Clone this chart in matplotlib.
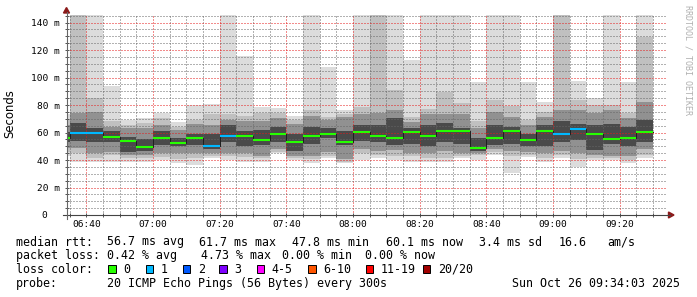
import matplotlib
matplotlib.use("Agg")
import matplotlib.pyplot as plt
from matplotlib.ticker import MultipleLocator, FuncFormatter
from matplotlib.patches import Polygon, Rectangle
from matplotlib.lines import Line2D
import numpy as np

# ---------------- data ----------------
bar_start = ["06:30", "06:35", "06:40", "06:45", "06:50", "06:55", "07:00", "07:05",
             "07:10", "07:15", "07:20", "07:25", "07:30", "07:35", "07:40", "07:45",
             "07:50", "07:55", "08:00", "08:05", "08:10", "08:15", "08:20", "08:25",
             "08:30", "08:35", "08:40", "08:45", "08:50", "08:55", "09:00", "09:05",
             "09:10", "09:15", "09:20", "09:25"]
ping_max = [73.3, 150, 150, 93.7, 69.2, 70.8, 74.3, 67.9, 80.0, 80.7, 150, 115.7,
            78.8, 78.1, 72.0, 150, 107.9, 76.4, 150, 150, 150, 113.0, 150, 150,
            150, 96.9, 150, 150, 96.9, 82.4, 150, 97.6, 84.8, 150, 96.9, 150]
upper_2 = [69.2, 150, 84.8, 68.2, 65.2, 67.2, 70.3, 64.1, 69.2, 73.3, 73.3, 72.3,
           74.3, 74.3, 69.2, 76.4, 71.3, 73.3, 78.4, 150, 90.6, 71.3, 77.4, 89.6,
           81.5, 68.2, 83.5, 79.4, 69.1, 75.1, 150, 83.5, 80.0, 80.0, 73.9, 129.7]
upper_1 = [65.2, 73.9, 75.1, 64.1, 63.1, 63.1, 65.2, 62.1, 66.2, 65.2, 69.2, 68.2,
           68.2, 70.3, 66.2, 72.3, 69.2, 71.3, 73.3, 74.3, 76.4, 67.7, 73.3, 73.3,
           73.3, 63.1, 75.1, 71.3, 65.5, 71.3, 76.4, 76.4, 73.9, 76.4, 70.3, 82.5]
upper_0 = [60.1, 67.2, 63.1, 61.1, 57.0, 55.0, 61.1, 56.0, 59.1, 59.1, 65.2, 61.1,
           62.1, 64.1, 59.1, 64.1, 63.1, 61.1, 65.2, 65.2, 70.3, 63.1, 65.2, 66.7,
           63.1, 56.0, 65.2, 64.1, 59.1, 65.2, 68.2, 66.2, 65.2, 66.2, 64.1, 69.2]
median = [56.2, 59.9, 59.9, 57.0, 54.0, 49.4, 56.2, 52.6, 55.8, 50.2, 57.4, 57.2,
          54.8, 58.6, 53.4, 57.4, 59.0, 53.0, 60.4, 57.4, 56.0, 60.4, 57.4, 61.3,
          61.3, 48.8, 56.0, 60.9, 54.8, 61.3, 59.2, 62.3, 58.6, 55.3, 56.2, 60.4]
lower_0 = [52.9, 54.0, 52.9, 52.9, 45.8, 46.3, 50.9, 49.9, 50.9, 47.9, 52.9, 49.9,
           50.9, 52.9, 46.8, 51.9, 56.0, 50.9, 54.0, 52.9, 50.9, 51.9, 49.9, 52.9,
           51.9, 46.8, 50.9, 51.9, 49.9, 49.9, 52.9, 54.5, 47.3, 51.9, 49.9, 52.9]
lower_1 = [48.9, 48.5, 44.8, 45.8, 43.8, 43.8, 44.8, 44.8, 44.8, 44.8, 44.8, 44.8,
           42.8, 47.9, 42.8, 42.8, 45.8, 40.7, 47.9, 46.8, 47.3, 44.8, 44.8, 46.8,
           44.8, 45.3, 47.9, 46.8, 45.8, 44.8, 46.8, 44.8, 43.8, 42.8, 42.8, 47.9]
lower_2 = [45.8, 44.8, 41.7, 43.8, 41.7, 41.7, 42.3, 40.7, 41.7, 42.8, 42.8, 42.3,
           41.7, 45.8, 41.2, 40.7, 42.8, 38.7, 44.8, 43.8, 42.8, 42.8, 41.7, 41.7,
           42.8, 43.8, 45.8, 42.8, 43.8, 41.7, 43.8, 40.7, 41.7, 41.7, 39.7, 43.8]
ping_min = [42.8, 38.8, 38.2, 38.7, 38.7, 38.7, 40.2, 37.6, 36.4, 41.2, 40.2, 38.7,
            38.7, 44.8, 39.7, 37.7, 41.2, 37.7, 39.7, 41.2, 40.0, 38.8, 38.7, 38.7,
            41.2, 40.0, 43.7, 30.5, 42.5, 38.8, 41.2, 35.1, 40.0, 40.0, 37.7, 41.7]
loss = [0, 1, 1, 0, 0, 0, 0, 0, 0, 1, 1, 0, 0, 0, 0, 0, 0, 0, 0, 0, 0, 0, 0, 0,
        0, 0, 0, 0, 0, 0, 1, 1, 0, 0, 0, 0]

loss_labels = ["0", "1", "2", "3", "4-5", "6-10", "11-19", "20/20"]
loss_colors = ["#26ff00", "#00b8ff", "#0059ff", "#7e00ff", "#ff00ff", "#ff5500",
               "#ff0000", "#a00000"]
loss_upper = [0, 1, 2, 3, 5, 10, 19, 20]

rtt_items = ["56.7 ms avg", "61.7 ms max", "47.8 ms min", "60.1 ms now", "3.4 ms sd",
             "16.6", "am/s"]
loss_items = ["0.42 % avg", "4.73 % max", "0.00 % min", "0.00 % now"]
probe_text = "20 ICMP Echo Pings (56 Bytes) every 300s"
date_text = "Sun Oct 26 09:34:03 2025"

# ---------------- helpers ----------------
W, H = 697, 297
MONO = "DejaVu Sans Mono"


def tmin(s):
    h, m = s.split(":")
    return (int(h) - 6) * 60 + int(m)


def fx(px):
    return px / W


def fy(py):
    return 1 - py / H


fig = plt.figure(figsize=(W / 100, H / 100), dpi=100)
fig.patch.set_facecolor("white")

ax_left, ax_right, ax_top, ax_bottom = 66.5, 666.5, 15, 215
ax = fig.add_axes([fx(ax_left), fy(ax_bottom), (ax_right - ax_left) / W,
                   (ax_bottom - ax_top) / H])
ax.set_facecolor("white")

x = np.array([tmin(s) for s in bar_start], dtype=float)
x_edges = np.append(x, x[-1] + 5)


def ext(a):
    a = np.asarray(a, dtype=float)
    return np.append(a, a[-1])


bands = [
    (ping_min, ping_max, "#dcdcdc"),
    (lower_2, upper_2, "#c0c0c0"),
    (lower_1, upper_1, "#919191"),
    (lower_0, upper_0, "#4a4a4a"),
]
for lo, hi, c in bands:
    ax.fill_between(x_edges, ext(lo), ext(hi), step="post", color=c,
                    linewidth=0, zorder=1)

# dark median step line, then loss coloured median segments
ax.step(x_edges, ext(median), where="post", color="#202020", linewidth=0.72, zorder=3)


def loss_bucket(n):
    for i, up in enumerate(loss_upper):
        if n <= up:
            return i
    return len(loss_upper) - 1


seg_colors = [loss_colors[loss_bucket(n)] for n in loss]
ax.hlines(median, x, x + 5, colors=seg_colors, linewidth=1.5, zorder=4,
          capstyle="butt")

# limits
t0 = 34 + 3 / 60
ax.set_xlim(t0, t0 + 180)
ax.set_ylim(0, 200 / 1.375)

# grid (dotted)
ax.xaxis.set_major_locator(MultipleLocator(20))
ax.xaxis.set_minor_locator(MultipleLocator(5))
ax.yaxis.set_major_locator(MultipleLocator(20))
ax.yaxis.set_minor_locator(MultipleLocator(5))
ax.set_axisbelow(False)
ax.grid(which="minor", color=(0.4, 0.4, 0.4, 0.5), linestyle=(0, (1, 2)),
        linewidth=0.72)
ax.grid(which="major", color=(0.9, 0.1, 0.1, 0.55), linestyle=(0, (1, 2)),
        linewidth=0.72)

ax.xaxis.set_major_formatter(FuncFormatter(lambda v, p: "%02d:%02d" % (6 + int(v) // 60, int(v) % 60)))
ax.yaxis.set_major_formatter(FuncFormatter(lambda v, p: ("%d m" % v) if v > 0 else "0  "))

ax.tick_params(which="both", direction="inout", length=3, width=0.72, color="#555555")
ax.tick_params(axis="x", which="major", pad=2.3)
ax.tick_params(axis="y", which="major", pad=3.4)
for lab in ax.get_xticklabels() + ax.get_yticklabels():
    lab.set_fontfamily(MONO)
    lab.set_fontsize(6.8)
    lab.set_color("#000000")

for sp in ax.spines.values():
    sp.set_visible(False)

# axis lines and arrows (figure coordinates)
axis_col = "#444444"
fig.add_artist(Line2D([fx(63), fx(670)], [fy(215), fy(215)], color=axis_col,
                      linewidth=0.8, transform=fig.transFigure))
fig.add_artist(Line2D([fx(66.5), fx(66.5)], [fy(219), fy(12)], color="#666666",
                      linewidth=0.8, transform=fig.transFigure))
arrow_col = "#8b1a1a"
fig.add_artist(Polygon([[fx(674), fy(215)], [fx(668.5), fy(212)], [fx(668.5), fy(218)]],
                       closed=True, color=arrow_col, transform=fig.transFigure))
fig.add_artist(Polygon([[fx(66.5), fy(7.5)], [fx(63.5), fy(13)], [fx(69.5), fy(13)]],
                       closed=True, color=arrow_col, transform=fig.transFigure))

# y label + watermark
fig.text(fx(10), fy(113.5), "Seconds", rotation=90, ha="center", va="center",
         fontsize=8.4, fontfamily="DejaVu Sans", color="#000000")
fig.text(fx(688), fy(60), "RRDTOOL / TOBI OETIKER", rotation=270, ha="center",
         va="center", fontsize=6.0, fontfamily=MONO, color="#b0b0b0")

# legend
FS = 8.4
base = [245.5, 259.3, 273.0, 287.0]
fig.text(fx(16), fy(base[0]), "median rtt:", fontsize=FS, fontfamily=MONO, va="baseline")
rtt_x = [107.3, 199.1, 292.4, 385.8, 479.3, 559.0, 607.7]
for s, px in zip(rtt_items, rtt_x):
    fig.text(fx(px), fy(base[0]), s, fontsize=FS, fontfamily=MONO, va="baseline")

fig.text(fx(16), fy(base[1]), "packet loss:", fontsize=FS, fontfamily=MONO, va="baseline")
loss_x = [107.3, 201.0, 282.0, 365.0]
for s, px in zip(loss_items, loss_x):
    fig.text(fx(px), fy(base[1]), s, fontsize=FS, fontfamily=MONO, va="baseline")

fig.text(fx(16), fy(base[2]), "loss color:", fontsize=FS, fontfamily=MONO, va="baseline")
box_x = [108.3, 145.7, 182.7, 219.3, 256.7, 308.3, 365.7, 422.7]
for lab, col, bx in zip(loss_labels, loss_colors, box_x):
    fig.add_artist(Rectangle((fx(bx), fy(272.7)), 7.5 / W, 7.5 / H, facecolor=col,
                             edgecolor="black", linewidth=0.7, transform=fig.transFigure))
    fig.text(fx(bx + 15), fy(base[2]), lab, fontsize=FS, fontfamily=MONO, va="baseline")

fig.text(fx(16), fy(base[3]), "probe:", fontsize=FS, fontfamily=MONO, va="baseline")
fig.text(fx(107.3), fy(base[3]), probe_text, fontsize=FS, fontfamily=MONO, va="baseline")
fig.text(fx(680), fy(base[3]), date_text, fontsize=FS, fontfamily=MONO, va="baseline",
         ha="right")

fig.savefig("out.png", dpi=100, facecolor="white")
